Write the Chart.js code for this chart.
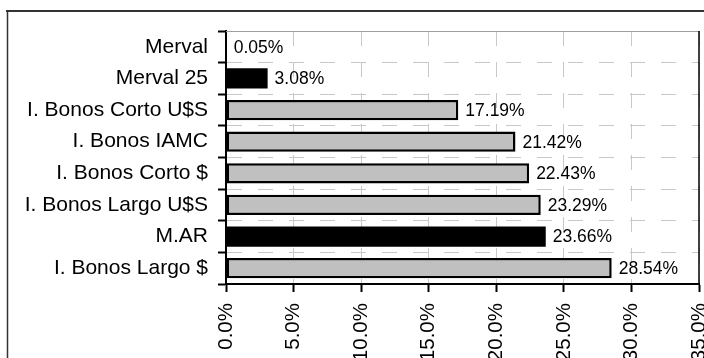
<!DOCTYPE html>
<html>
<head>
<meta charset="utf-8">
<script src="https://cdn.jsdelivr.net/npm/chart.js@4/dist/chart.umd.min.js"></script>
<style>
  html, body { margin: 0; padding: 0; background: #fff; overflow: hidden; }
  #wrap { position: absolute; left: 0; top: 0; width: 704px; height: 358px; overflow: hidden; }
  canvas { position: absolute; left: 0; top: 0; }
</style>
</head>
<body>
<div id="wrap"><canvas id="retChart" width="720" height="380"></canvas></div>
<script>
// categories top to bottom, returns in %
const categories = ['Merval', 'Merval 25', 'I. Bonos Corto U$S', 'I. Bonos IAMC', 'I. Bonos Corto $', 'I. Bonos Largo U$S', 'M.AR', 'I. Bonos Largo $'];
const returns = [0.05, 3.08, 17.19, 21.42, 22.43, 23.29, 23.66, 28.54];
const isIndex = [true, true, false, false, false, false, true, false];
const xTicks = [0, 5, 10, 15, 20, 25, 30, 35];

const FONT = 'Liberation Sans, Arial, sans-serif';

// frame lines + value labels
const decor = {
  id: 'decor',
  beforeDraw(chart) {
    const c = chart.ctx;
    c.save();
    c.strokeStyle = '#333';
    c.lineWidth = 2;
    c.beginPath(); c.moveTo(6, 11); c.lineTo(chart.width, 11); c.stroke();
    c.lineWidth = 1.5;
    c.beginPath(); c.moveTo(7.5, 10); c.lineTo(7.5, chart.height); c.stroke();
    c.restore();
  },
  beforeDatasetsDraw(chart) {
    const a = chart.chartArea, c = chart.ctx;
    c.save();
    c.strokeStyle = '#a0a0a0';
    c.lineWidth = 1;
    c.beginPath(); c.moveTo(a.left, a.top + 0.5); c.lineTo(a.right, a.top + 0.5); c.stroke();
    c.strokeStyle = '#000';
    c.lineWidth = 1.5;
    c.beginPath(); c.moveTo(a.right, a.top); c.lineTo(a.right, a.bottom); c.stroke();
    c.restore();
  },
  afterDatasetsDraw(chart) {
    const c = chart.ctx;
    const meta = chart.getDatasetMeta(0);
    c.save();
    c.font = '17.5px ' + FONT;
    c.fillStyle = '#000';
    c.textBaseline = 'middle';
    c.textAlign = 'left';
    meta.data.forEach((bar, i) => {
      c.fillText(returns[i].toFixed(2) + '%', bar.x + 7, bar.y + 1);
    });
    c.restore();
  }
};

new Chart(document.getElementById('retChart'), {
  type: 'bar',
  data: {
    labels: categories,
    datasets: [{
      data: returns,
      backgroundColor: isIndex.map(b => b ? '#000' : '#c0c0c0'),
      borderColor: '#000',
      borderWidth: isIndex.map(b => b ? 0 : 2.5),
      borderSkipped: false,
      barPercentage: 0.64,
      categoryPercentage: 1
    }]
  },
  options: {
    indexAxis: 'y',
    responsive: false,
    animation: false,
    devicePixelRatio: 1,
    layout: { padding: { left: 8, top: 31, right: 21, bottom: 0 } },
    plugins: { legend: { display: false }, tooltip: { enabled: false } },
    scales: {
      x: {
        min: 0,
        max: 35,
        afterBuildTicks: s => { s.ticks = xTicks.map(v => ({ value: v })); },
        afterFit: s => { s.height = 96; s.paddingLeft = 0; s.paddingRight = 0; },
        ticks: {
          color: '#000',
          font: { family: FONT, size: 20.5 },
          minRotation: 90,
          maxRotation: 90,
          padding: 11,
          callback: v => v.toFixed(1) + '%'
        },
        grid: {
          color: '#c8c8c8',
          lineWidth: 1,
          tickColor: '#000',
          tickWidth: 2,
          tickLength: 8,
          tickBorderDash: []
        },
        border: { color: '#000', width: 2, dash: [15, 16] }
      },
      y: {
        afterFit: s => { s.width = 218; s.paddingTop = 0; s.paddingBottom = 0; },
        ticks: {
          color: '#000',
          font: { family: FONT, size: 21 },
          padding: 10
        },
        grid: {
          offset: true,
          color: '#c8c8c8',
          lineWidth: 1,
          tickColor: '#000',
          tickWidth: 2,
          tickLength: 8,
          tickBorderDash: []
        },
        border: { color: '#000', width: 2, dash: [15, 16] }
      }
    }
  },
  plugins: [decor]
});
</script>
</body>
</html>
